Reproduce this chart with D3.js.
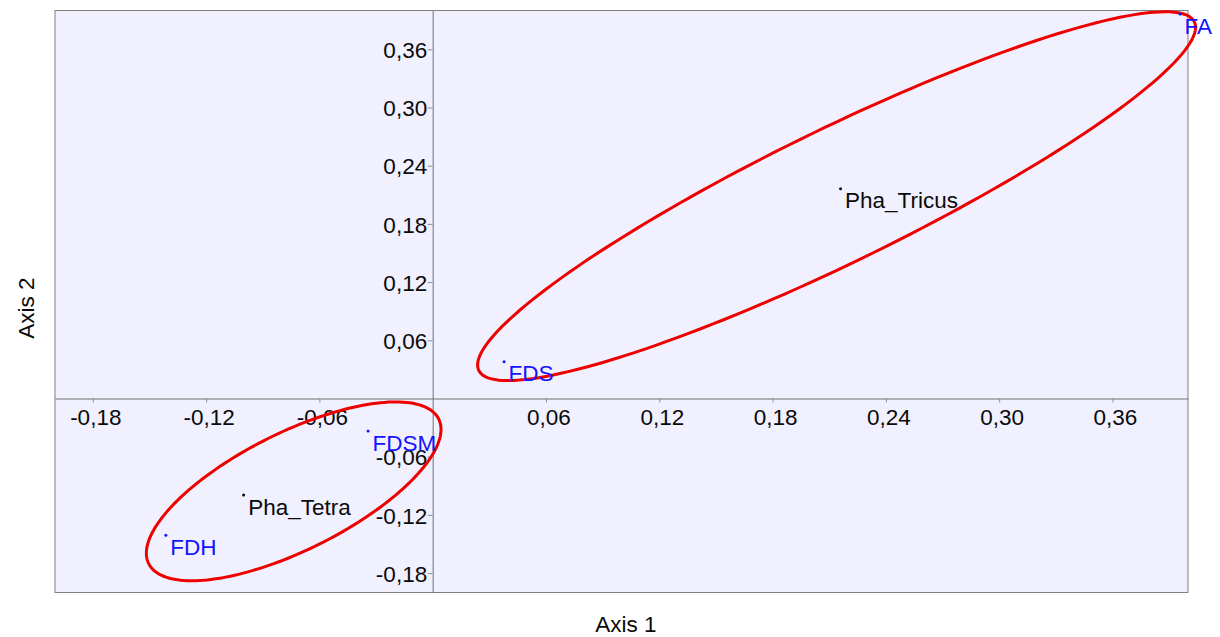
<!DOCTYPE html>
<html>
<head>
<meta charset="utf-8">
<script src="https://cdn.jsdelivr.net/npm/d3@7"></script>
<style>
  html, body { margin: 0; padding: 0; background: #ffffff; }
  svg { display: block; font-family: "Liberation Sans", Arial, sans-serif; }
</style>
</head>
<body>
<svg id="chart" width="1220" height="637"></svg>
<script>
// Ordination scores (Axis 1, Axis 2)
const labels = ["FA", "Pha_Tricus", "FDS", "FDSM", "Pha_Tetra", "FDH"];
const axis1 = [0.3958, 0.2160, 0.0378, -0.0342, -0.1001, -0.1413];
const axis2 = [0.3963, 0.2162, 0.0378, -0.0336, -0.0995, -0.1410];
const kinds = ["var", "obj", "var", "var", "obj", "var"];

// Group ellipses: centre, semi-axes and rotation (degrees) in score units
const ellipseCx = [0.2139, -0.0736];
const ellipseCy = [0.2086, -0.0957];
const ellipseA = [0.2631, 0.1114];
const ellipseB = [0.0553, 0.0466];
const ellipseAngle = [45.0, 51.8];

// Axis ticks
const xTicks = [-0.18, -0.12, -0.06, 0.06, 0.12, 0.18, 0.24, 0.30, 0.36];
const yTicks = [-0.18, -0.12, -0.06, 0.06, 0.12, 0.18, 0.24, 0.30, 0.36];
const xDomain = [-0.2, 0.4];
const yDomain = [-0.2, 0.4];

const svg = d3.select("#chart");
const plotLeft = 55, plotRight = 1188, plotTop = 10.5, plotBottom = 592.5;
const fontSize = 22.5;

const x = d3.scaleLinear().domain(xDomain).range([plotLeft, plotRight]);
const y = d3.scaleLinear().domain(yDomain).range([plotBottom, plotTop]);

const locale = d3.formatLocale({ decimal: ",", thousands: ".", grouping: [3], currency: ["", ""], minus: "-" });
const fmt = locale.format(".2f");

// Plot background and frame
svg.append("rect")
  .attr("x", plotLeft).attr("y", plotTop)
  .attr("width", plotRight - plotLeft).attr("height", plotBottom - plotTop)
  .attr("fill", "#f0f0fe")
  .attr("stroke", "#808080")
  .attr("stroke-width", 1);

// Axes through the origin
const gx = svg.append("g")
  .attr("transform", `translate(0,${y(0)})`)
  .call(d3.axisBottom(x).tickValues(xTicks).tickFormat(fmt).tickSize(4).tickSizeOuter(0));
gx.select(".domain").attr("stroke", "#707070");
gx.selectAll(".tick line").attr("stroke", "#909090");
gx.selectAll(".tick text")
  .attr("y", 26).attr("dy", null).attr("x", 2.5)
  .attr("font-size", fontSize).attr("fill", "#0a0a0a")
  .attr("font-family", "Liberation Sans, Arial, sans-serif");

const gy = svg.append("g")
  .attr("transform", `translate(${x(0)},0)`)
  .call(d3.axisLeft(y).tickValues(yTicks).tickFormat(fmt).tickSize(5).tickSizeOuter(0));
gy.select(".domain").attr("stroke", "#707070");
gy.selectAll(".tick line").attr("stroke", "#909090");
gy.selectAll(".tick text")
  .attr("x", -5.5).attr("dy", "0.36em")
  .attr("font-size", fontSize).attr("fill", "#0a0a0a")
  .attr("font-family", "Liberation Sans, Arial, sans-serif");

// Ellipses
const line = d3.line().x(d => x(d[0])).y(d => y(d[1]));
ellipseCx.forEach((cx, i) => {
  const th = ellipseAngle[i] * Math.PI / 180;
  const ring = d3.range(0, 361, 2).map(deg => {
    const t = deg * Math.PI / 180;
    const u = ellipseA[i] * Math.cos(t), v = ellipseB[i] * Math.sin(t);
    return [cx + u * Math.cos(th) - v * Math.sin(th), ellipseCy[i] + u * Math.sin(th) + v * Math.cos(th)];
  });
  svg.append("path")
    .attr("d", line(ring) + "Z")
    .attr("fill", "none")
    .attr("stroke", "#ee0000")
    .attr("stroke-width", 3);
});

// Points and labels
const colour = k => k === "var" ? "#1414ff" : "#0a0a0a";
const pts = labels.map((l, i) => ({ label: l, a1: axis1[i], a2: axis2[i], kind: kinds[i] }));
const pg = svg.append("g");
pg.selectAll("circle").data(pts).join("circle")
  .attr("cx", d => x(d.a1)).attr("cy", d => y(d.a2))
  .attr("r", 1.5)
  .attr("fill", d => colour(d.kind));
pg.selectAll("text").data(pts).join("text")
  .attr("x", d => x(d.a1) + 4.5).attr("y", d => y(d.a2) + 19.5)
  .attr("font-size", fontSize)
  .attr("fill", d => colour(d.kind))
  .text(d => d.label);

// Axis titles
svg.append("text")
  .attr("x", (plotLeft + plotRight) / 2 + 4.5).attr("y", 632)
  .attr("text-anchor", "middle").attr("font-size", fontSize).attr("fill", "#0a0a0a")
  .text("Axis 1");
svg.append("text")
  .attr("transform", `translate(34,${(plotTop + plotBottom) / 2 + 6.5}) rotate(-90)`)
  .attr("text-anchor", "middle").attr("font-size", fontSize).attr("fill", "#0a0a0a")
  .text("Axis 2");
</script>
</body>
</html>
